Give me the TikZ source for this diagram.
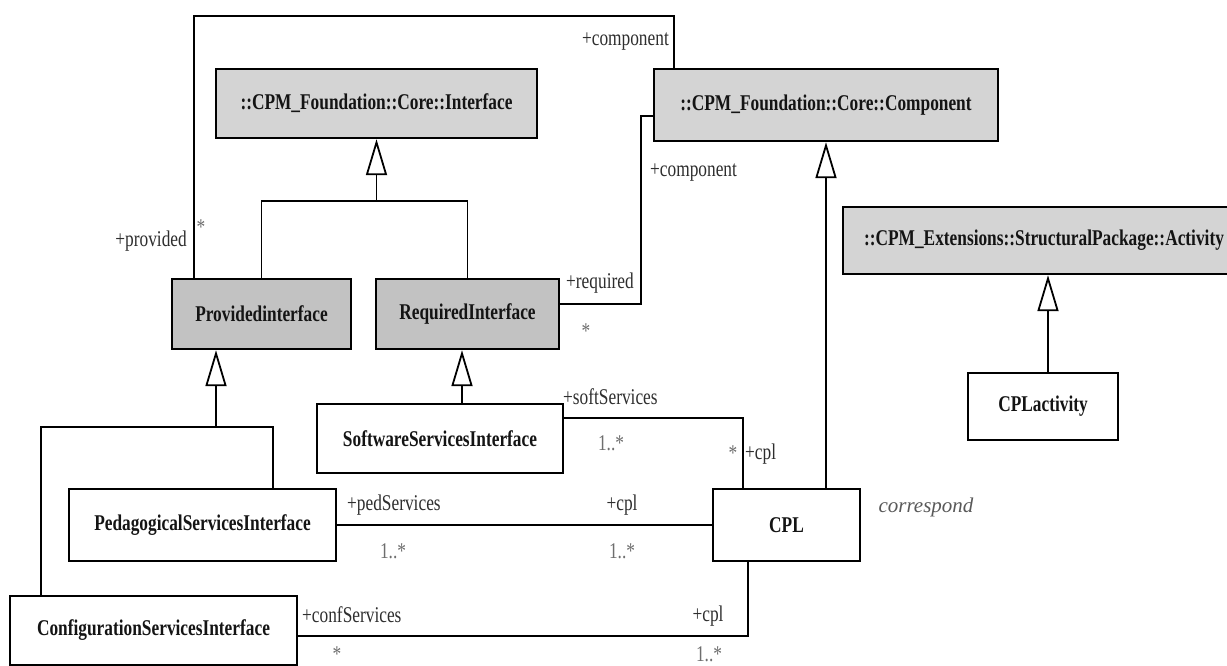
\documentclass[tikz,border=0pt]{standalone}
\usepackage{fontspec}
\setmainfont{Liberation Serif}
\newfontfamily\lbl[FakeStretch=0.77]{Liberation Serif}
\newfontfamily\itl{Liberation Serif}
\usetikzlibrary{arrows.meta}
\definecolor{lightg}{HTML}{D4D4D4}
\definecolor{darkg}{HTML}{C2C2C2}
\definecolor{labc}{HTML}{2E2E2E}
\definecolor{multc}{HTML}{6E6E6E}
\begin{document}
\begin{tikzpicture}[x=1pt,y=-1pt,
  box/.style={draw=black, line width=2.4pt, inner sep=0pt, font=\lbl\bfseries\fontsize{22.5}{25}\selectfont, text=black!92},
  lightbox/.style={box, fill=lightg},
  darkbox/.style={box, fill=darkg},
  whitebox/.style={box, fill=white},
  conn/.style={line width=1.8pt},
  gen/.style={conn, -{Triangle[length=36pt,width=21pt,fill=white]}},
  lab/.style={font=\lbl\fontsize{22.5}{25}\selectfont, text=labc, inner sep=0pt},
  mult/.style={lab, text=multc}]
\useasboundingbox[fill=white] (0,0) rectangle (1227,666);

% classes
\node[lightbox, minimum width=321pt, minimum height=69pt] (iface) at (376.5,103.5) {::CPM\_Foundation::Core::Interface};
\node[lightbox, minimum width=344pt, minimum height=72pt] (comp) at (826,105) {::CPM\_Foundation::Core::Component};
\node[lightbox, minimum width=402pt, minimum height=67pt] (act) at (1044,240.5) {::CPM\_Extensions::StructuralPackage::Activity};
\node[darkbox, minimum width=179pt, minimum height=70pt] (prov) at (261.5,314) {Providedinterface};
\node[darkbox, minimum width=183pt, minimum height=70pt] (req) at (467.5,314) {RequiredInterface};
\node[whitebox, minimum width=246pt, minimum height=69pt] (soft) at (440,438.5) {SoftwareServicesInterface};
\node[whitebox, minimum width=267pt, minimum height=72pt] (ped) at (202.5,525) {PedagogicalServicesInterface};
\node[whitebox, minimum width=287pt, minimum height=69pt] (conf) at (153.5,630.5) {ConfigurationServicesInterface};
\node[whitebox, minimum width=147pt, minimum height=72pt] (cpl) at (786.5,525) {CPL};
\node[whitebox, minimum width=150pt, minimum height=67pt] (cplact) at (1043,406.5) {CPLactivity};

% generalizations
\coordinate (j1) at (376.5,201);
\draw[conn] (prov.north) |- (j1) -| (req.north);
\draw[gen] (j1) -- (iface.south);

\coordinate (j2) at (216,427);
\coordinate (cl) at (41,0);
\coordinate (pr) at (273,0);
\draw[conn] (conf.north -| cl) |- (j2) -| (ped.north -| pr);
\draw[gen] (j2) -- (prov.south -| j2);

\coordinate (g3) at (462,0);
\draw[gen] (soft.north -| g3) -- (req.south -| g3);

\draw[gen] (cpl.north -| comp.south) -- (comp.south);

\coordinate (ga) at (1048,0);
\draw[gen] (cplact.north -| ga) -- (act.south -| ga);

% associations
\coordinate (a1) at (194,16);
\coordinate (a2) at (674,16);
\draw[conn] (prov.north -| a1) -- (a1) -- (a2) -- (comp.north -| a2);

\coordinate (b1) at (641,116);
\coordinate (b2) at (641,304);
\draw[conn] (comp.west |- b1) -- (b1) -- (b2) -- (req.east |- b2);

\coordinate (c1) at (743,418);
\draw[conn] (soft.east |- c1) -- (c1) -- (cpl.north -| c1);

\draw[conn] (ped.east) -- (cpl.west);

\coordinate (d1) at (748,636);
\draw[conn] (conf.east |- d1) -- (d1) -- (cpl.south -| d1);

% role names and multiplicities
\node[lab, anchor=east] (l1) at (669,42) {+component};
\node[mult] (m1) at (201,227) {*};
\node[lab, anchor=east] (l2) at (187,241) {+provided};
\node[lab, anchor=west] (l3) at (650,173) {+component};
\node[lab, anchor=west] (l4) at (566,283) {+required};
\node[mult] (m2) at (586,331) {*};
\node[lab, anchor=west] (l5) at (563,397) {+softServices};
\node[mult] (m3) at (611,443) {1..*};
\node[mult] (m4) at (733,453) {*};
\node[lab, anchor=west] (l6) at (745,454) {+cpl};
\node[lab, anchor=west] (l7) at (347,505) {+pedServices};
\node[lab] (l8) at (622,505) {+cpl};
\node[mult] (m5) at (393,551) {1..*};
\node[mult] (m6) at (622,551) {1..*};
\node[lab, anchor=west] (l9) at (302,615) {+confServices};
\node[lab] (l10) at (708,616) {+cpl};
\node[mult, anchor=base] (m7) at (337,661) {*};
\node[mult, anchor=base] (m8) at (709,661) {1..*};
\node[font=\itl\itshape\fontsize{21}{24}\selectfont, text=black!65, inner sep=0pt] (corr) at (926,507) {correspond};
\end{tikzpicture}
\end{document}
